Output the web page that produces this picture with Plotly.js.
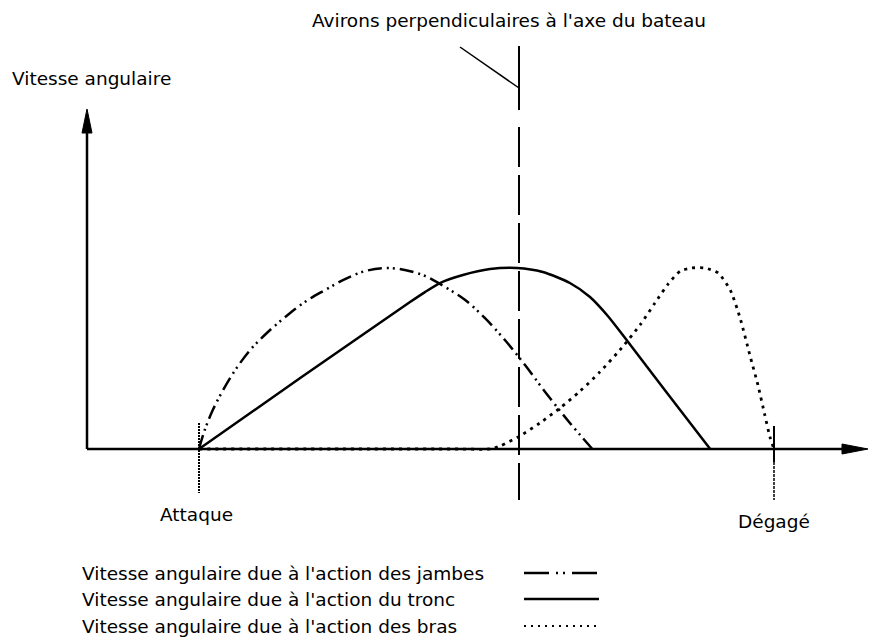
<!DOCTYPE html>
<html>
<head>
<meta charset="utf-8">
<script src="https://cdn.plot.ly/plotly-3.0.1.min.js"></script>
<style>
  html, body { margin: 0; padding: 0; background: #fff; }
  #chart { width: 869px; height: 637px; }
</style>
</head>
<body>
<div id="chart"></div>
<script>
// temps : 0 = attaque, 100 = dégagé ; vitesse : 0..100 (pic)
let legs_t = [0, 1.0, 2.4, 4.2, 6.3, 8.9, 11.8, 15.0, 18.4, 21.9, 25.4, 28.9, 32.4, 35.8, 39.3, 42.8, 46.3, 49.7, 53.2, 56.7, 60.2, 64.5, 68.4];
let legs_v = [0, 10.5, 21.5, 32.6, 43.6, 54.7, 64.1, 72.9, 81.2, 87.8, 93.9, 98.3, 100, 98.9, 95.6, 89.5, 82.3, 72.4, 60.2, 46.4, 31.5, 14.4, 0];

let trunk_t = [0, 17.6, 36.7, 39.3, 41.9, 45.9, 50.6, 55.3, 59.8, 64.5, 68.0, 71.1, 74.1, 81.4, 88.9];
let trunk_v = [0, 39.2, 81.2, 86.7, 91.7, 96.1, 99.4, 100, 97.8, 91.7, 84.0, 73.5, 61.3, 30.9, 0];

let arms_t = [0, 25, 45, 50.6, 52.4, 55.8, 59.3, 62.8, 66.3, 69.7, 73.2, 76.7, 79.3, 81.6, 83.7, 85.7, 88.0, 90.3, 92.4, 94.1, 95.8, 97.2, 98.4, 99.3, 100];
let arms_v = [0, 0, 0, 0, 1.7, 7.2, 14.4, 22.7, 32.0, 42.5, 54.7, 68.5, 80.7, 91.2, 98.3, 100, 100, 97.2, 87.8, 72.4, 51.9, 35.4, 18.8, 6.6, 0];

let title_text = "Avirons perpendiculaires à l'axe du bateau";
let yaxis_text = "Vitesse angulaire";
let start_text = "Attaque";
let end_text = "Dégagé";
let legend_texts = [
	"Vitesse angulaire due à l'action des jambes",
	"Vitesse angulaire due à l'action du tronc",
	"Vitesse angulaire due à l'action des bras"
];

const W = 869;
const H = 637;
const FONT = "DejaVu Sans";

function px(x){ return x / W; }
function py(y){ return 1 - y / H; }

const legsDash = "14px,5px,2px,4px,2px,5px";
const armsDash = "3px,5px";

let legs = {
	x: legs_t, y: legs_v, mode: 'lines',
	line: {color: '#000', width: 2.5, shape: 'spline', smoothing: 1, dash: legsDash},
	hoverinfo: 'skip'
};
let trunk = {
	x: trunk_t, y: trunk_v, mode: 'lines',
	line: {color: '#000', width: 2.5, shape: 'spline', smoothing: 0.7},
	hoverinfo: 'skip'
};
let arms = {
	x: arms_t, y: arms_v, mode: 'lines',
	line: {color: '#000', width: 2.8, shape: 'spline', smoothing: 0.6, dash: armsDash},
	hoverinfo: 'skip'
};

function seg(x0, y0, x1, y1, width, dash){
	return {
		type: 'line', xref: 'paper', yref: 'paper',
		x0: px(x0), y0: py(y0), x1: px(x1), y1: py(y1),
		line: {color: '#000', width: width, dash: dash || 'solid'}
	};
}

function tri(pts){
	let d = pts.map((p, i) => (i ? 'L' : 'M') + px(p[0]) + ',' + py(p[1])).join(' ') + ' Z';
	return {type: 'path', xref: 'paper', yref: 'paper', path: d,
		fillcolor: '#000', line: {color: '#000', width: 1}};
}

let shapes = [
	// axes
	seg(87, 449, 87, 130, 2.5),
	seg(87, 449, 845, 449, 2.5),
	tri([[87, 109], [82, 133], [92, 133]]),
	tri([[868, 449], [842, 444], [842, 454]]),
	// repères
	seg(199, 423, 199, 493, 2, "2px,1px"),
	seg(774, 426, 774, 462, 2),
	seg(774, 462, 774, 500, 1.5, "3px,1px"),
	// avirons perpendiculaires
	seg(519, 46, 519, 110, 2),
	seg(519, 127, 519, 500, 2, "40px,8px"),
	seg(460, 47, 519, 88, 1.5),
	// légende
	seg(524, 573, 599, 573, 2.5, "25px,7px,2px,5px,2px,7px"),
	seg(524, 599, 599, 599, 2.5),
	seg(524, 626, 599, 626, 2, "2px,5px")
];

function label(text, x, y, xanchor){
	return {
		text: text, xref: 'paper', yref: 'paper', x: px(x), y: py(y),
		xanchor: xanchor, yanchor: 'middle', showarrow: false,
		font: {family: FONT, size: 18.5, color: '#000'}
	};
}

let annotations = [
	label(title_text, 509, 21, 'center'),
	label(yaxis_text, 10, 78, 'left'),
	label(start_text, 196, 514, 'center'),
	label(end_text, 774, 521, 'center')
];
legend_texts.forEach(function(t, i){
	annotations.push(label(t, 80, 573 + i * 26.5, 'left'));
});

let layout = {
	width: W, height: H,
	margin: {l: 0, r: 0, t: 0, b: 0},
	paper_bgcolor: '#fff', plot_bgcolor: '#fff',
	showlegend: false,
	xaxis: {range: [-199 / 5.75, (W - 199) / 5.75], visible: false, fixedrange: true},
	yaxis: {range: [-(H - 449) / 1.81, 449 / 1.81], visible: false, fixedrange: true},
	shapes: shapes,
	annotations: annotations
};

Plotly.newPlot('chart', [arms, legs, trunk], layout, {staticPlot: true, displayModeBar: false});
</script>
</body>
</html>
